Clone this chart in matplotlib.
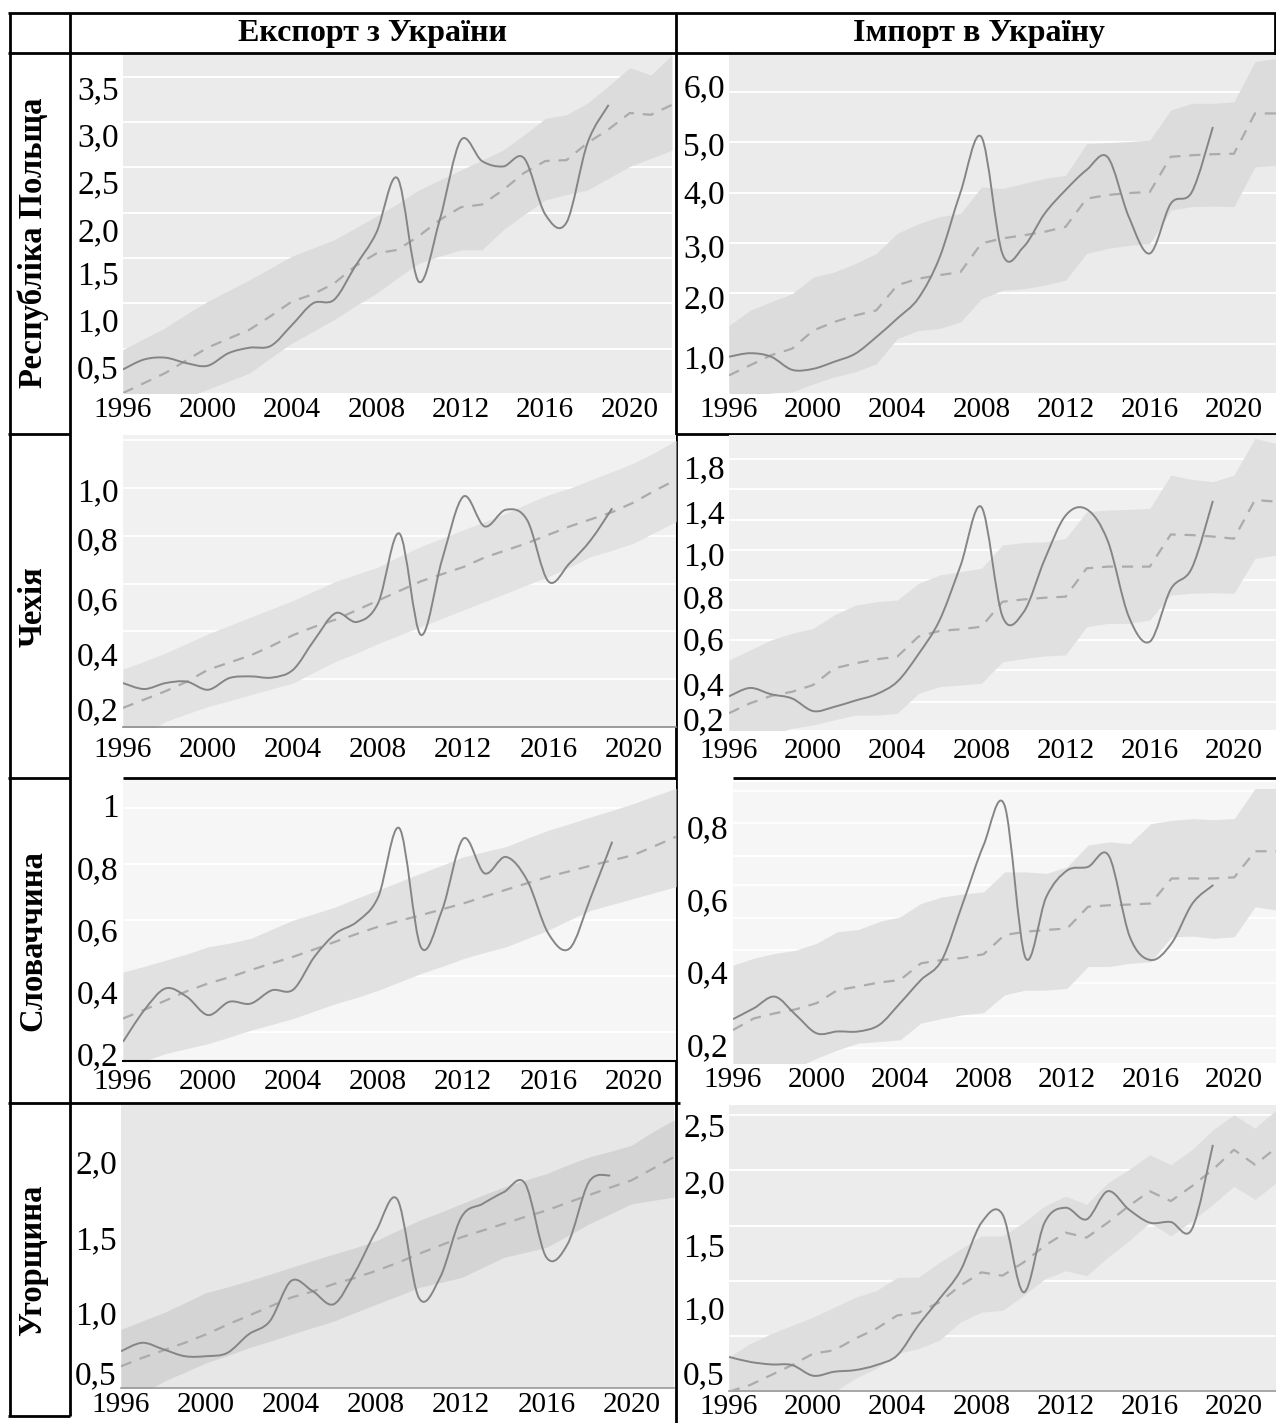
import numpy as np
import matplotlib
matplotlib.use("Agg")
from matplotlib import pyplot as plt
from matplotlib.path import Path
from matplotlib.patches import PathPatch
from matplotlib.lines import Line2D

plt.rcParams['font.family'] = ['Liberation Serif', 'DejaVu Serif']

# --- data -------------------------------------------------------------
years_fact = list(range(1996, 2020))   # фактичні значення
years_fc = list(range(1996, 2023))     # тренд і довірчий інтервал
year_ticks = [1996, 2000, 2004, 2008, 2012, 2016, 2020]

col_titles = ['Експорт з України', 'Імпорт в Україну']
row_titles = ['Республіка Польща', 'Чехія', 'Словаччина', 'Угорщина']

# Польща
pl_exp = [0.27, 0.38, 0.40, 0.34, 0.31, 0.45, 0.51, 0.53, 0.76, 1.00, 1.04, 1.41,
          1.78, 2.38, 1.24, 1.92, 2.80, 2.57, 2.51, 2.60, 1.98, 1.89, 2.77, 3.19]
pl_exp_trend = [0.01, 0.12, 0.23, 0.37, 0.51, 0.61, 0.71, 0.86, 1.02, 1.10, 1.22, 1.41, 1.55, 1.59,
                1.74, 1.92, 2.06, 2.09, 2.25, 2.44, 2.57, 2.58, 2.77, 2.92, 3.10, 3.08, 3.19]
pl_exp_hi = [0.49, 0.61, 0.73, 0.88, 1.02, 1.14, 1.26, 1.39, 1.52, 1.61, 1.70, 1.83, 1.96, 2.10,
             2.25, 2.36, 2.47, 2.58, 2.69, 2.86, 3.04, 3.08, 3.21, 3.40, 3.60, 3.52, 3.74]
pl_exp_lo = [-0.30, -0.20, -0.12, -0.04, 0.05, 0.14, 0.23, 0.40, 0.56, 0.69, 0.82, 0.97, 1.11, 1.28,
             1.44, 1.52, 1.59, 1.59, 1.81, 1.98, 2.14, 2.20, 2.25, 2.38, 2.51, 2.60, 2.69]

pl_imp = [0.74, 0.81, 0.74, 0.48, 0.50, 0.64, 0.80, 1.13, 1.50, 1.90, 2.70, 4.00,
          5.10, 2.78, 2.92, 3.58, 4.05, 4.45, 4.70, 3.52, 2.79, 3.78, 4.01, 5.30]
pl_imp_trend = [0.37, 0.57, 0.77, 0.90, 1.26, 1.43, 1.56, 1.66, 2.16, 2.29, 2.36, 2.42, 2.99, 3.09,
                3.15, 3.22, 3.32, 3.88, 3.95, 3.99, 4.01, 4.71, 4.74, 4.76, 4.77, 5.57, 5.57]
pl_imp_hi = [1.36, 1.66, 1.83, 1.99, 2.32, 2.42, 2.59, 2.79, 3.19, 3.38, 3.52, 3.58, 4.11, 4.08,
             4.18, 4.28, 4.34, 4.97, 4.99, 5.01, 5.04, 5.64, 5.77, 5.77, 5.80, 6.60, 6.66]
pl_imp_lo = [-0.35, -0.15, 0.02, 0.04, 0.20, 0.34, 0.44, 0.60, 1.10, 1.26, 1.30, 1.43, 1.89, 2.06,
             2.09, 2.16, 2.26, 2.79, 2.89, 2.95, 2.99, 3.65, 3.72, 3.73, 3.72, 4.51, 4.54]

# Чехія
cz_exp = [0.184, 0.159, 0.184, 0.19, 0.156, 0.205, 0.212, 0.207, 0.24, 0.365, 0.477, 0.44,
          0.52, 0.81, 0.386, 0.70, 0.965, 0.84, 0.91, 0.867, 0.61, 0.686, 0.784, 0.916]
cz_exp_trend = [0.08, 0.115, 0.15, 0.19, 0.24, 0.27, 0.30, 0.34, 0.385, 0.42, 0.45, 0.49, 0.53, 0.57,
                0.61, 0.64, 0.67, 0.71, 0.74, 0.77, 0.805, 0.84, 0.87, 0.90, 0.94, 0.99, 1.035]
cz_exp_hi = [0.242, 0.275, 0.31, 0.35, 0.39, 0.425, 0.46, 0.495, 0.53, 0.57, 0.61, 0.64, 0.67, 0.715,
             0.756, 0.79, 0.826, 0.86, 0.895, 0.935, 0.972, 1.0, 1.035, 1.07, 1.105, 1.15, 1.20]
cz_exp_lo = [-0.08, -0.03, 0.023, 0.055, 0.086, 0.11, 0.135, 0.16, 0.184, 0.23, 0.275, 0.31, 0.35,
             0.385, 0.42, 0.455, 0.49, 0.525, 0.56, 0.595, 0.63, 0.67, 0.714, 0.74, 0.77, 0.815, 0.86]

cz_imp = [0.32, 0.36, 0.33, 0.31, 0.25, 0.27, 0.30, 0.33, 0.39, 0.52, 0.68, 0.94,
          1.22, 0.70, 0.72, 0.97, 1.18, 1.21, 1.06, 0.70, 0.58, 0.83, 0.93, 1.25]
cz_imp_trend = [0.24, 0.287, 0.322, 0.342, 0.374, 0.453, 0.477, 0.496, 0.509, 0.604, 0.631, 0.639,
                0.651, 0.77, 0.781, 0.789, 0.794, 0.929, 0.937, 0.937, 0.937, 1.09, 1.087, 1.08,
                1.07, 1.254, 1.246]
cz_imp_hi = [0.493, 0.54, 0.588, 0.62, 0.643, 0.707, 0.754, 0.77, 0.778, 0.857, 0.897, 0.913, 0.929,
             1.04, 1.051, 1.055, 1.071, 1.198, 1.206, 1.209, 1.214, 1.372, 1.352, 1.341, 1.372,
             1.547, 1.523]
cz_imp_lo = [0.06, 0.10, 0.14, 0.168, 0.184, 0.208, 0.231, 0.231, 0.239, 0.334, 0.366, 0.374, 0.382,
             0.485, 0.50, 0.512, 0.517, 0.651, 0.667, 0.667, 0.683, 0.802, 0.81, 0.813, 0.81,
             0.976, 0.992]

# Словаччина
sk_exp = [0.237, 0.339, 0.409, 0.382, 0.323, 0.366, 0.36, 0.403, 0.405, 0.511, 0.586, 0.624,
          0.704, 0.925, 0.543, 0.661, 0.892, 0.78, 0.833, 0.758, 0.586, 0.538, 0.704, 0.882]
sk_exp_trend = [0.312, 0.34, 0.37, 0.40, 0.425, 0.445, 0.468, 0.49, 0.511, 0.535, 0.56, 0.585, 0.608,
                0.627, 0.645, 0.664, 0.683, 0.705, 0.727, 0.748, 0.769, 0.787, 0.805, 0.822, 0.839,
                0.868, 0.898]
sk_exp_hi = [0.462, 0.48, 0.50, 0.52, 0.543, 0.555, 0.57, 0.60, 0.629, 0.65, 0.672, 0.70, 0.726,
             0.753, 0.78, 0.806, 0.833, 0.85, 0.866, 0.893, 0.919, 0.94, 0.962, 0.983, 1.005,
             1.03, 1.054]
sk_exp_lo = [0.15, 0.175, 0.199, 0.215, 0.231, 0.252, 0.274, 0.293, 0.312, 0.336, 0.36, 0.38, 0.403,
             0.43, 0.457, 0.48, 0.505, 0.525, 0.543, 0.57, 0.597, 0.63, 0.661, 0.68, 0.699,
             0.718, 0.737]

sk_imp = [0.27, 0.30, 0.332, 0.282, 0.231, 0.236, 0.236, 0.254, 0.314, 0.378, 0.433, 0.589,
          0.75, 0.86, 0.44, 0.607, 0.68, 0.69, 0.72, 0.497, 0.433, 0.479, 0.589, 0.64]
sk_imp_trend = [0.24, 0.272, 0.286, 0.297, 0.314, 0.35, 0.36, 0.371, 0.378, 0.424, 0.433, 0.439,
                0.449, 0.502, 0.511, 0.516, 0.52, 0.58, 0.584, 0.586, 0.589, 0.658, 0.658, 0.658,
                0.661, 0.733, 0.733]
sk_imp_hi = [0.419, 0.438, 0.451, 0.46, 0.479, 0.511, 0.517, 0.539, 0.552, 0.589, 0.607, 0.615,
             0.621, 0.676, 0.676, 0.672, 0.69, 0.75, 0.759, 0.754, 0.809, 0.818, 0.823, 0.82,
             0.823, 0.906, 0.906]
sk_imp_lo = [0.07, 0.09, 0.11, 0.135, 0.162, 0.185, 0.204, 0.208, 0.213, 0.259, 0.272, 0.282, 0.288,
             0.337, 0.35, 0.35, 0.355, 0.415, 0.415, 0.424, 0.428, 0.497, 0.499, 0.493, 0.497,
             0.58, 0.571]

# Угорщина
hu_exp = [0.744, 0.80, 0.756, 0.711, 0.711, 0.733, 0.856, 0.944, 1.211, 1.144, 1.056, 1.267,
          1.544, 1.75, 1.10, 1.233, 1.633, 1.722, 1.80, 1.856, 1.367, 1.456, 1.867, 1.911]
hu_exp_trend = [0.644, 0.70, 0.75, 0.80, 0.856, 0.92, 0.98, 1.04, 1.10, 1.14, 1.19, 1.23, 1.278,
                1.33, 1.39, 1.445, 1.50, 1.545, 1.59, 1.635, 1.678, 1.73, 1.78, 1.83, 1.878,
                1.955, 2.033]
hu_exp_hi = [0.889, 0.945, 1.0, 1.065, 1.133, 1.17, 1.211, 1.255, 1.30, 1.345, 1.389, 1.43, 1.478,
             1.545, 1.611, 1.665, 1.722, 1.78, 1.833, 1.88, 1.922, 1.98, 2.033, 2.07, 2.111,
             2.20, 2.278]
hu_exp_lo = [0.42, 0.46, 0.544, 0.605, 0.667, 0.715, 0.767, 0.81, 0.856, 0.90, 0.944, 1.0, 1.056,
             1.11, 1.167, 1.20, 1.233, 1.30, 1.367, 1.40, 1.433, 1.51, 1.589, 1.655, 1.722,
             1.745, 1.767]

hu_imp = [0.314, 0.269, 0.246, 0.24, 0.144, 0.18, 0.195, 0.24, 0.329, 0.599, 0.838, 1.093,
          1.527, 1.602, 0.898, 1.527, 1.662, 1.557, 1.811, 1.647, 1.527, 1.533, 1.467, 2.23]
hu_imp_trend = [0.0, 0.06, 0.15, 0.24, 0.344, 0.374, 0.479, 0.569, 0.689, 0.713, 0.808, 0.958,
                1.078, 1.048, 1.168, 1.317, 1.437, 1.392, 1.527, 1.677, 1.811, 1.722, 1.856,
                2.006, 2.186, 2.051, 2.201]
hu_imp_hi = [0.314, 0.434, 0.524, 0.599, 0.674, 0.763, 0.853, 0.913, 1.033, 1.033, 1.168, 1.287,
             1.407, 1.407, 1.527, 1.677, 1.766, 1.692, 1.886, 2.006, 2.141, 2.051, 2.186, 2.365,
             2.50, 2.38, 2.545]
hu_imp_lo = [-0.35, -0.27, -0.20, -0.12, -0.05, 0.0, 0.12, 0.21, 0.344, 0.389, 0.464, 0.629, 0.719,
             0.734, 0.868, 1.018, 1.093, 1.048, 1.213, 1.362, 1.527, 1.407, 1.542, 1.692, 1.856,
             1.737, 1.886]

# підписи осі Y (як у вихідному рисунку)
pl_exp_ylabels = ['0,5', '1,0', '1,5', '2,0', '2,5', '3,0', '3,5']
pl_imp_ylabels = ['1,0', '2,0', '3,0', '4,0', '5,0', '6,0']
cz_exp_ylabels = ['0,2', '0,4', '0,6', '0,8', '1,0']
cz_imp_ylabels = ['0,2', '0,4', '0,6', '0,8', '1,0', '1,4', '1,8']
sk_exp_ylabels = ['0,2', '0,4', '0,6', '0,8', '1']
sk_imp_ylabels = ['0,2', '0,4', '0,6', '0,8']
hu_exp_ylabels = ['0,5', '1,0', '1,5', '2,0']
hu_imp_ylabels = ['0,5', '1,0', '1,5', '2,0', '2,5']

# --- layout (pixels of a 1276x1423 canvas) -----------------------------
W, H = 1276, 1423

panels = [
    # box (left, top, right, bottom), ylim, ytick positions, grid, colors, bottom line, xpad
    dict(data=(pl_exp, pl_exp_trend, pl_exp_hi, pl_exp_lo), box=(123, 55, 672, 393),
         ylim=(0.01, 3.74), yt=[0.305, 0.82, 1.335, 1.81, 2.346, 2.86, 3.386], yl=pl_exp_ylabels,
         grid=[0.5, 1.0, 1.5, 2.0, 2.5, 3.0, 3.5], bg='#ebebeb', band='#dcdcdc', spine=None, xpad=3),
    dict(data=(pl_imp, pl_imp_trend, pl_imp_hi, pl_imp_lo), box=(729, 55, 1276, 393),
         ylim=(0.02, 6.73), yt=[0.75, 1.93, 2.95, 4.01, 4.97, 6.13], yl=pl_imp_ylabels,
         grid=[1, 2, 3, 4, 5, 6], bg='#ebebeb', band='#dcdcdc', spine=None, xpad=3),
    dict(data=(cz_exp, cz_exp_trend, cz_exp_hi, cz_exp_lo), box=(123, 435, 676, 727),
         ylim=(0.0, 1.223), yt=[0.079, 0.309, 0.54, 0.791, 0.993], yl=cz_exp_ylabels,
         grid=[0.2, 0.4, 0.6, 0.8, 1.0, 1.2], bg='#f1f1f1', band='#e2e2e2', spine='#8c8c8c', xpad=7),
    dict(data=(cz_imp, cz_imp_trend, cz_imp_hi, cz_imp_lo), box=(729, 435, 1276, 730),
         ylim=(0.16, 1.563), yt=[0.215, 0.382, 0.596, 0.794, 1.0, 1.198, 1.412], yl=cz_imp_ylabels,
         grid=[0.295, 0.445, 0.588, 0.731, 0.873, 1.016, 1.158, 1.304, 1.447],
         bg='#f0f0f0', band='#e0e0e0', spine=None, xpad=6),
    dict(data=(sk_exp, sk_exp_trend, sk_exp_hi, sk_exp_lo), box=(123, 780, 676, 1061),
         ylim=(0.175, 1.081), yt=[0.2, 0.4, 0.6, 0.8, 1.0], yl=sk_exp_ylabels,
         grid=[0.27, 0.45, 0.63, 0.81, 0.99], bg='#f6f6f6', band='#e1e1e1', spine='black', xpad=6),
    dict(data=(sk_imp, sk_imp_trend, sk_imp_hi, sk_imp_lo), box=(733, 782, 1276, 1063),
         ylim=(0.149, 0.924), yt=[0.2, 0.4, 0.6, 0.8], yl=sk_imp_ylabels,
         grid=[0.19, 0.28, 0.37, 0.46, 0.55, 0.64, 0.72, 0.81, 0.9],
         bg='#f6f6f6', band='#e1e1e1', spine=None, xpad=3),
    dict(data=(hu_exp, hu_exp_trend, hu_exp_hi, hu_exp_lo), box=(121, 1105, 674, 1388),
         ylim=(0.5, 2.378), yt=[0.6, 1.0, 1.5, 2.0], yl=hu_exp_ylabels,
         grid=[], bg='#e7e7e7', band='#d4d4d4', spine='#9a9a9a', xpad=3),
    dict(data=(hu_imp, hu_imp_trend, hu_imp_hi, hu_imp_lo), box=(729, 1105, 1276, 1391),
         ylim=(0.006, 2.59), yt=[0.17, 0.763, 1.332, 1.9, 2.41], yl=hu_imp_ylabels,
         grid=[0.5, 1.0, 1.5, 2.0, 2.5], bg='#ececec', band='#dedede', spine='#9a9a9a', xpad=2),
]


def smooth_path(x, y):
    # крива Безьє (Catmull-Rom) через фактичні точки
    verts = [(x[0], y[0])]
    codes = [Path.MOVETO]
    n = len(x)
    for i in range(n - 1):
        i0, i2 = max(i - 1, 0), min(i + 2, n - 1)
        c1 = (x[i] + (x[i + 1] - x[i0]) / 6, y[i] + (y[i + 1] - y[i0]) / 6)
        c2 = (x[i + 1] - (x[i2] - x[i]) / 6, y[i + 1] - (y[i2] - y[i]) / 6)
        verts += [c1, c2, (x[i + 1], y[i + 1])]
        codes += [Path.CURVE4] * 3
    return Path(verts, codes)


def fig_line(fig, x0, y0, x1, y1):
    fig.add_artist(Line2D([x0 / W, x1 / W], [1 - y0 / H, 1 - y1 / H],
                          transform=fig.transFigure, color='black', lw=2.0,
                          solid_capstyle='butt', zorder=0))


fig = plt.figure(figsize=(W / 100, H / 100), dpi=100)
fig.patch.set_facecolor('white')

# рамка таблиці
for seg in [(8, 13, 1276, 13), (8, 53, 1276, 53),
            (8, 434, 70, 434), (676, 434, 1276, 434),
            (8, 778, 70, 778), (123, 778, 676, 778), (733, 778, 1276, 778),
            (8, 1103, 680, 1103), (8, 1416, 70, 1416),
            (10, 13, 10, 1416), (70, 13, 70, 1416), (676, 13, 676, 1423),
            (1275, 13, 1275, 55)]:
    fig_line(fig, *seg)

fig.text(372 / W, 1 - 33 / H, col_titles[0], ha='center', va='center',
         fontsize=23, fontweight='bold')
fig.text(979 / W, 1 - 33 / H, col_titles[1], ha='center', va='center',
         fontsize=23, fontweight='bold')

for name, yc in zip(row_titles, [243, 607, 941, 1260]):
    fig.text(33 / W, 1 - yc / H, name, ha='center', va='center', rotation=90,
             fontsize=23.5, fontweight='bold')

for p in panels:
    left, top, right, bottom = p['box']
    ax = fig.add_axes([left / W, 1 - bottom / H, (right - left) / W, (bottom - top) / H])
    ax.set_facecolor(p['bg'])
    fact, trend, hi, lo = p['data']

    ax.fill_between(years_fc, lo, hi, color=p['band'], lw=0, zorder=1)
    ax.plot(years_fc, trend, color='#ababab', lw=1.6, ls=(0, (5, 4)), zorder=3)
    ax.add_patch(PathPatch(smooth_path(years_fact, fact), fill=False,
                           edgecolor='#858585', lw=1.4, zorder=4))

    ax.set_xlim(1996, 2022)
    ax.set_ylim(*p['ylim'])
    ax.set_xticks(year_ticks)
    ax.set_xticklabels([str(y) for y in year_ticks], fontsize=21)
    ax.set_yticks(p['yt'])
    ax.set_yticklabels(p['yl'], fontsize=24)
    ax.set_yticks(p['grid'], minor=True)
    ax.grid(True, which='minor', axis='y', color='white', lw=1.3, zorder=0)
    ax.set_axisbelow(True)
    ax.tick_params(which='both', length=0)
    ax.tick_params(axis='y', pad=3)
    ax.tick_params(axis='x', pad=p['xpad'])
    for s in ax.spines.values():
        s.set_visible(False)
    if p['spine']:
        ax.spines['bottom'].set_visible(True)
        ax.spines['bottom'].set_color(p['spine'])
        ax.spines['bottom'].set_linewidth(1.5 if p['spine'] == 'black' else 1.2)

fig.savefig('out.png', dpi=100, facecolor='white')
